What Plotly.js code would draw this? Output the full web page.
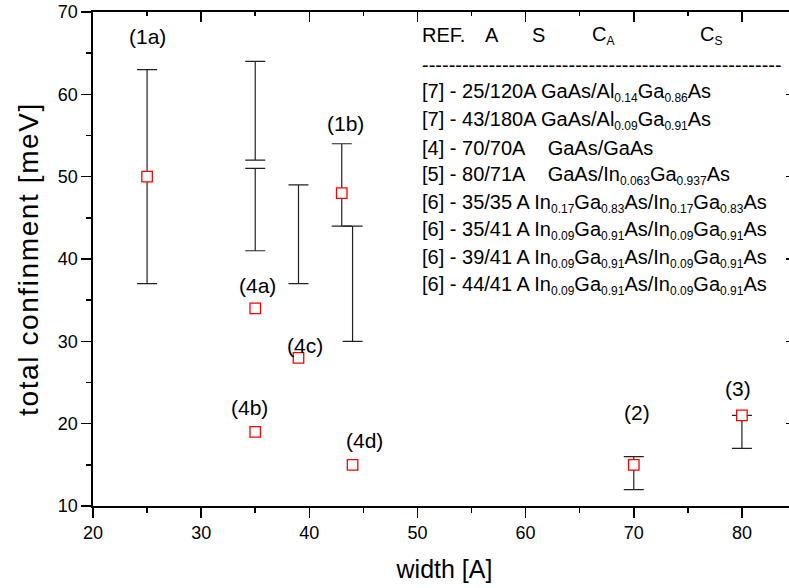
<!DOCTYPE html>
<html>
<head>
<meta charset="utf-8">
<script src="https://cdn.plot.ly/plotly-3.0.1.min.js"></script>
<style>
html,body{margin:0;padding:0;overflow:hidden;background:#fff;}
#chart{width:800px;height:588px;}
#chart .ytitle{letter-spacing:1.6px;}
</style>
</head>
<body>
<div id="chart"></div>
<script>
// ---- data ----
// points with error ranges
const errX = [25, 43, 70, 80];
const errY = [50, 48, 15, 21];
const errHigh = [63, 54, 16, 21];
const errLow = [37, 44, 12, 17];
const errLabels = ['(1a)', '(1b)', '(2)', '(3)'];
const errLabelX = [25, 43.3, 70.3, 79.6];
const errLabelY = [67, 56.5, 21.3, 24.3];

// points without error bars
const ptX = [35, 35, 39, 44];
const ptY = [34, 19, 28, 15];
const ptLabels = ['(4a)', '(4b)', '(4c)', '(4d)'];
const ptLabelX = [35.2, 34.5, 39.6, 45.1];
const ptLabelY = [36.8, 22, 29.5, 18];

// range bars without central points
const rangeX = [35, 35, 39, 44];
const rangeLow = [52, 41, 37, 30];
const rangeHigh = [64, 51, 49, 44];

// legend table
const sub = s => '<sub><span style="font-size:12px">' + s + '</span></sub>';
const headerText = ['REF.', 'A', 'S', 'C' + sub('A'), 'C' + sub('S')];
const headerX = [50.26, 56.06, 60.4, 65.95, 75.93];
const tableRows = [
  '[7] - 25/120A GaAs/Al' + sub('0.14') + 'Ga' + sub('0.86') + 'As',
  '[7] - 43/180A GaAs/Al' + sub('0.09') + 'Ga' + sub('0.91') + 'As',
  '[4] - 70/70A\u00a0\u00a0\u00a0 GaAs/GaAs',
  '[5] - 80/71A\u00a0\u00a0\u00a0 GaAs/In' + sub('0.063') + 'Ga' + sub('0.937') + 'As',
  '[6] - 35/35 A In' + sub('0.17') + 'Ga' + sub('0.83') + 'As/In' + sub('0.17') + 'Ga' + sub('0.83') + 'As',
  '[6] - 35/41 A In' + sub('0.09') + 'Ga' + sub('0.91') + 'As/In' + sub('0.09') + 'Ga' + sub('0.91') + 'As',
  '[6] - 39/41 A In' + sub('0.09') + 'Ga' + sub('0.91') + 'As/In' + sub('0.09') + 'Ga' + sub('0.91') + 'As',
  '[6] - 44/41 A In' + sub('0.09') + 'Ga' + sub('0.91') + 'As/In' + sub('0.09') + 'Ga' + sub('0.91') + 'As'
];

const FONT = 'Liberation Sans, Arial, Helvetica, sans-serif';

// ---- traces ----
const traces = [
  {
    type: 'scatter', mode: 'markers', x: rangeX, y: rangeLow,
    marker: {size: 1, opacity: 0},
    error_y: {type: 'data', symmetric: false,
      array: rangeHigh.map((h, i) => h - rangeLow[i]),
      arrayminus: rangeLow.map(() => 0),
      color: '#222', thickness: 1.2, width: 10},
    hoverinfo: 'skip', showlegend: false
  },
  {
    type: 'scatter', mode: 'markers', x: errX, y: errY,
    marker: {symbol: 'square', size: 10.5, color: '#fff', line: {color: '#ff0000', width: 1.3}},
    error_y: {type: 'data', symmetric: false,
      array: errHigh.map((h, i) => h - errY[i]),
      arrayminus: errLow.map((l, i) => errY[i] - l),
      color: '#222', thickness: 1.2, width: 10},
    showlegend: false
  },
  {
    type: 'scatter', mode: 'markers', x: ptX, y: ptY,
    marker: {symbol: 'square', size: 10.5, color: '#fff', line: {color: '#ff0000', width: 1.3}},
    showlegend: false
  },
  {type: 'scatter', x: [], y: [], xaxis: 'x2', yaxis: 'y2', showlegend: false}
];

// ---- annotations ----
const ann = [];
errLabels.forEach((t, i) => ann.push({x: errLabelX[i], y: errLabelY[i], text: t}));
ptLabels.forEach((t, i) => ann.push({x: ptLabelX[i], y: ptLabelY[i], text: t}));
ann.forEach(a => { a.xref = 'x'; a.yref = 'y'; a.showarrow = false; a.font = {family: FONT, size: 21, color: '#000'}; });

headerText.forEach((t, i) => ann.push({
  x: headerX[i], y: 67.2, xref: 'x', yref: 'y', text: t, showarrow: false,
  xanchor: 'left', yanchor: 'middle', font: {family: FONT, size: 20, color: '#000'}
}));
ann.push({
  x: 50.26, y: 63.6, xref: 'x', yref: 'y', text: '-'.repeat(54), showarrow: false,
  xanchor: 'left', yanchor: 'middle', font: {family: FONT, size: 20, color: '#000'}
});
tableRows.forEach((t, i) => ann.push({
  x: 50.26, y: 60.2 - i * 3.35, xref: 'x', yref: 'y', text: t, showarrow: false,
  xanchor: 'left', yanchor: 'middle', align: 'left', font: {family: FONT, size: 20, color: '#000'}
}));

const axCommon = {
  showgrid: false, zeroline: false, showline: true, linecolor: '#000', linewidth: 1.6,
  tickcolor: '#000', tickwidth: 1.6
};

const layout = {
  width: 800, height: 588,
  margin: {l: 93, r: 4, t: 12, b: 82},
  paper_bgcolor: '#fff', plot_bgcolor: '#fff',
  font: {family: FONT, color: '#000'},
  showlegend: false,
  xaxis: Object.assign({}, axCommon, {
    range: [20, 85], tickvals: [20, 30, 40, 50, 60, 70, 80],
    ticks: 'outside', ticklen: 10,
    minor: {tickvals: [25, 35, 45, 55, 65, 75, 85], ticks: 'outside', ticklen: 5, tickwidth: 1.6, tickcolor: '#000'},
    tickfont: {family: FONT, size: 18},
    title: {text: 'width [A]', font: {family: FONT, size: 25}, standoff: 18}
  }),
  yaxis: Object.assign({}, axCommon, {
    range: [10, 70], dtick: 10, tick0: 10,
    ticks: 'outside', ticklen: 10,
    minor: {dtick: 5, ticks: 'outside', ticklen: 5, tickwidth: 1.6, tickcolor: '#000'},
    tickfont: {family: FONT, size: 18},
    title: {text: 'total confinment [meV]', font: {family: FONT, size: 28}, standoff: 11}
  }),
  xaxis2: Object.assign({}, axCommon, {
    overlaying: 'x', side: 'top', range: [20, 85],
    tickvals: [20, 30, 40, 50, 60, 70, 80], ticks: 'inside', ticklen: 10,
    minor: {tickvals: [25, 35, 45, 55, 65, 75], ticks: 'inside', ticklen: 4, tickwidth: 1.6, tickcolor: '#000'},
    showticklabels: false
  }),
  yaxis2: Object.assign({}, axCommon, {
    overlaying: 'y', side: 'right', range: [10, 70], dtick: 10, tick0: 10,
    ticks: 'inside', ticklen: 10,
    minor: {dtick: 5, ticks: 'inside', ticklen: 4, tickwidth: 1.6, tickcolor: '#000'},
    showticklabels: false
  }),
  annotations: ann
};

Plotly.newPlot('chart', traces, layout, {displayModeBar: false, staticPlot: true});
</script>
</body>
</html>
